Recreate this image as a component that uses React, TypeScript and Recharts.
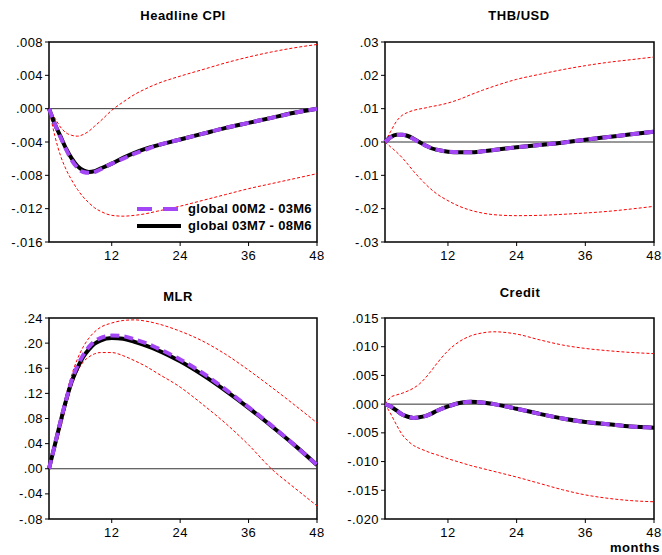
import React from 'react';
import { LineChart, Line, XAxis, YAxis, ReferenceLine, ReferenceArea } from 'recharts';

const months = [1, 2, 3, 4, 5, 6, 7, 8, 9, 10, 12, 14, 16, 18, 20, 24, 28, 32, 36, 40, 44, 48];
const xTicks = [12, 24, 36, 48];

// Headline CPI
const cpiEarly = [0, -0.0018, -0.0034, -0.0049, -0.0062, -0.0071, -0.0076, -0.0077, -0.0076, -0.0073, -0.0066, -0.006, -0.0054, -0.0049, -0.0044, -0.0037, -0.003, -0.0023, -0.0017, -0.0011, -0.0005, 0];
const cpiLate = [0, -0.0018, -0.0033, -0.0048, -0.006, -0.0069, -0.0074, -0.0076, -0.0075, -0.0072, -0.0066, -0.0059, -0.0053, -0.0048, -0.0044, -0.0037, -0.003, -0.0023, -0.0017, -0.0011, -0.0005, 0];
const cpiUpper = [0, -0.0011, -0.0022, -0.0029, -0.0032, -0.0033, -0.0031, -0.0027, -0.0021, -0.0015, -0.0002, 0.0008, 0.0017, 0.0024, 0.003, 0.0039, 0.0047, 0.0055, 0.0062, 0.0068, 0.0073, 0.0077];
const cpiLower = [0, -0.0032, -0.0056, -0.0073, -0.0086, -0.0097, -0.0106, -0.0113, -0.0119, -0.0123, -0.0128, -0.0129, -0.0128, -0.0126, -0.0123, -0.0117, -0.011, -0.0103, -0.0096, -0.009, -0.0084, -0.0078];
const cpiTicks = [-0.016, -0.012, -0.008, -0.004, 0, 0.004, 0.008];

// THB/USD
const fxEarly = [0, 0.0014, 0.0021, 0.0022, 0.0018, 0.0009, -0.0001, -0.001, -0.0018, -0.0023, -0.0029, -0.0031, -0.0031, -0.0028, -0.0024, -0.0016, -0.0009, -0.0002, 0.0007, 0.0015, 0.0023, 0.0031];
const fxLate = [0, 0.0015, 0.0022, 0.0022, 0.0018, 0.001, 0, -0.001, -0.0018, -0.0023, -0.0029, -0.0031, -0.0031, -0.0028, -0.0024, -0.0016, -0.0009, -0.0002, 0.0007, 0.0015, 0.0023, 0.0031];
const fxUpper = [0, 0.0032, 0.0062, 0.008, 0.0089, 0.0095, 0.0099, 0.0102, 0.0106, 0.0109, 0.0117, 0.0128, 0.0142, 0.0155, 0.0167, 0.0188, 0.0203, 0.0217, 0.0229, 0.0239, 0.0247, 0.0255];
const fxLower = [0, -0.0015, -0.003, -0.0047, -0.0067, -0.0088, -0.0107, -0.0125, -0.0141, -0.0155, -0.0176, -0.0193, -0.0205, -0.0213, -0.0218, -0.0221, -0.022, -0.0217, -0.0213, -0.0208, -0.0201, -0.0193];
const fxTicks = [-0.03, -0.02, -0.01, 0, 0.01, 0.02, 0.03];

// MLR
const mlrEarly = [0, 0.037, 0.075, 0.11, 0.141, 0.164, 0.181, 0.194, 0.203, 0.208, 0.212, 0.211, 0.206, 0.2, 0.192, 0.174, 0.152, 0.126, 0.098, 0.069, 0.038, 0.006];
const mlrLate = [0, 0.037, 0.074, 0.109, 0.139, 0.161, 0.178, 0.19, 0.199, 0.204, 0.208, 0.207, 0.202, 0.196, 0.189, 0.171, 0.149, 0.124, 0.097, 0.068, 0.038, 0.006];
const mlrUpper = [0, 0.04, 0.08, 0.118, 0.15, 0.175, 0.194, 0.208, 0.218, 0.225, 0.232, 0.236, 0.237, 0.235, 0.231, 0.219, 0.203, 0.182, 0.157, 0.13, 0.102, 0.073];
const mlrLower = [0, 0.03, 0.063, 0.1, 0.132, 0.155, 0.17, 0.178, 0.183, 0.185, 0.185, 0.18, 0.172, 0.163, 0.152, 0.13, 0.102, 0.072, 0.038, 0.0, -0.03, -0.059];
const mlrTicks = [-0.08, -0.04, 0, 0.04, 0.08, 0.12, 0.16, 0.2, 0.24];

// Credit
const crEarly = [0, -0.0004, -0.0011, -0.0018, -0.0022, -0.0024, -0.0023, -0.0021, -0.0017, -0.0012, -0.0004, 0.0002, 0.0004, 0.0003, 0.0, -0.0008, -0.0017, -0.0025, -0.0031, -0.0035, -0.0039, -0.0041];
const crLate = [0, -0.0004, -0.0011, -0.0018, -0.0022, -0.0024, -0.0023, -0.0021, -0.0017, -0.0012, -0.0004, 0.0002, 0.0004, 0.0003, 0.0, -0.0008, -0.0017, -0.0025, -0.0031, -0.0035, -0.0039, -0.0041];
const crUpper = [0, 0.0012, 0.0016, 0.0019, 0.0023, 0.0028, 0.0035, 0.0045, 0.0057, 0.007, 0.0093, 0.0109, 0.0119, 0.0124, 0.0126, 0.0122, 0.0112, 0.0103, 0.0097, 0.0093, 0.009, 0.0088];
const crLower = [0, -0.0017, -0.0036, -0.0053, -0.0064, -0.0072, -0.0077, -0.0081, -0.0085, -0.0088, -0.0095, -0.0101, -0.0107, -0.0112, -0.0117, -0.0127, -0.0138, -0.0149, -0.0158, -0.0164, -0.0168, -0.017];
const crTicks = [-0.02, -0.015, -0.01, -0.005, 0, 0.005, 0.01, 0.015];

const legendLabels = ['global 00M2 - 03M6', 'global 03M7 - 08M6'];

const PURPLE = '#a346f5';
const FONT = '"Liberation Sans", Arial, sans-serif';

const rows = (early: number[], late: number[], upper: number[], lower: number[]) =>
  months.map((m, i) => ({ m, early: early[i], late: late[i], upper: upper[i], lower: lower[i] }));

const fmt = (d: number) => (v: number) => v.toFixed(d).replace('0.', '.');

type PanelProps = {
  left: number;
  top: number;
  height: number;
  marginTop: number;
  marginRight: number;
  yWidth: number;
  xHeight: number;
  ticks: number[];
  decimals: number;
  data: any[];
};

function Panel({ left, top, height, marginTop, marginRight, yWidth, xHeight, ticks, decimals, data }: PanelProps) {
  const lo = ticks[0];
  const hi = ticks[ticks.length - 1];
  return (
    <div style={{ position: 'absolute', left, top }}>
      <LineChart width={331} height={height} data={data} margin={{ top: marginTop, right: marginRight, bottom: 0, left: 0 }}>
        <XAxis
          dataKey="m"
          type="number"
          domain={[1, 48]}
          ticks={xTicks}
          height={xHeight}
          axisLine={false}
          tickLine={{ stroke: '#000' }}
          tickSize={4}
          tickMargin={5}
          tick={{ fontSize: 13, fill: '#000', fontFamily: FONT, letterSpacing: 0.4 }}
        />
        <YAxis
          type="number"
          domain={[lo, hi]}
          ticks={ticks}
          width={yWidth}
          axisLine={false}
          tickLine={{ stroke: '#000' }}
          tickSize={4}
          tickMargin={2}
          tickFormatter={fmt(decimals)}
          tick={{ fontSize: 13, fill: '#000', fontFamily: FONT, letterSpacing: 0.4 }}
          interval={0}
        />
        <ReferenceLine y={0} stroke="#333" strokeWidth={1} />
        <Line dataKey="upper" type="monotone" stroke="#ff0000" strokeWidth={1} strokeDasharray="3 2" dot={false} isAnimationActive={false} />
        <Line dataKey="lower" type="monotone" stroke="#ff0000" strokeWidth={1} strokeDasharray="3 2" dot={false} isAnimationActive={false} />
        <Line dataKey="late" type="monotone" stroke="#000" strokeWidth={4} dot={false} isAnimationActive={false} />
        <Line dataKey="early" type="monotone" stroke={PURPLE} strokeWidth={4} strokeDasharray="9 5" dot={false} isAnimationActive={false} />
        <ReferenceArea x1={1} x2={48} y1={lo} y2={hi} fill="none" stroke="#000" strokeWidth={1.5} />
      </LineChart>
    </div>
  );
}

const titleStyle = (cx: number, top: number): React.CSSProperties => ({
  position: 'absolute',
  left: cx,
  top,
  transform: 'translateX(-50%)',
  fontFamily: FONT,
  fontWeight: 'bold',
  fontSize: 13,
  lineHeight: '13px',
  letterSpacing: 0.5,
  whiteSpace: 'nowrap',
  color: '#000',
});

export default function App() {
  return (
    <div style={{ position: 'absolute', left: 0, top: 0, width: 662, height: 555, background: '#fff', overflow: 'hidden', fontFamily: FONT }}>
      <Panel left={0} top={0} height={270} marginTop={42} marginRight={14} yWidth={49} xHeight={28} ticks={cpiTicks} decimals={3} data={rows(cpiEarly, cpiLate, cpiUpper, cpiLower)} />
      <Panel left={331} top={0} height={270} marginTop={42} marginRight={8} yWidth={54} xHeight={28} ticks={fxTicks} decimals={2} data={rows(fxEarly, fxLate, fxUpper, fxLower)} />
      <Panel left={0} top={280} height={275} marginTop={38} marginRight={14} yWidth={49} xHeight={36} ticks={mlrTicks} decimals={2} data={rows(mlrEarly, mlrLate, mlrUpper, mlrLower)} />
      <Panel left={331} top={280} height={275} marginTop={38} marginRight={8} yWidth={54} xHeight={36} ticks={crTicks} decimals={3} data={rows(crEarly, crLate, crUpper, crLower)} />

      <div style={titleStyle(183, 9)}>Headline CPI</div>
      <div style={titleStyle(519, 9)}>THB/USD</div>
      <div style={titleStyle(178, 290)}>MLR</div>
      <div style={titleStyle(520, 286)}>Credit</div>
      <div style={{ ...titleStyle(610, 541), transform: 'none' }}>months</div>

      <div style={{ position: 'absolute', left: 137, top: 200, fontFamily: FONT, fontWeight: 'bold', fontSize: 13, letterSpacing: 0.3 }}>
        {legendLabels.map((label, i) => (
          <div key={label} style={{ display: 'flex', alignItems: 'center', height: 17 }}>
            <svg width={51} height={8} style={{ flex: 'none' }}>
              <line x1={0} y1={4} x2={44} y2={4} stroke={i === 0 ? PURPLE : '#000'} strokeWidth={4} strokeDasharray={i === 0 ? '15 11' : undefined} />
            </svg>
            <span style={{ lineHeight: '17px' }}>{label}</span>
          </div>
        ))}
      </div>
    </div>
  );
}
